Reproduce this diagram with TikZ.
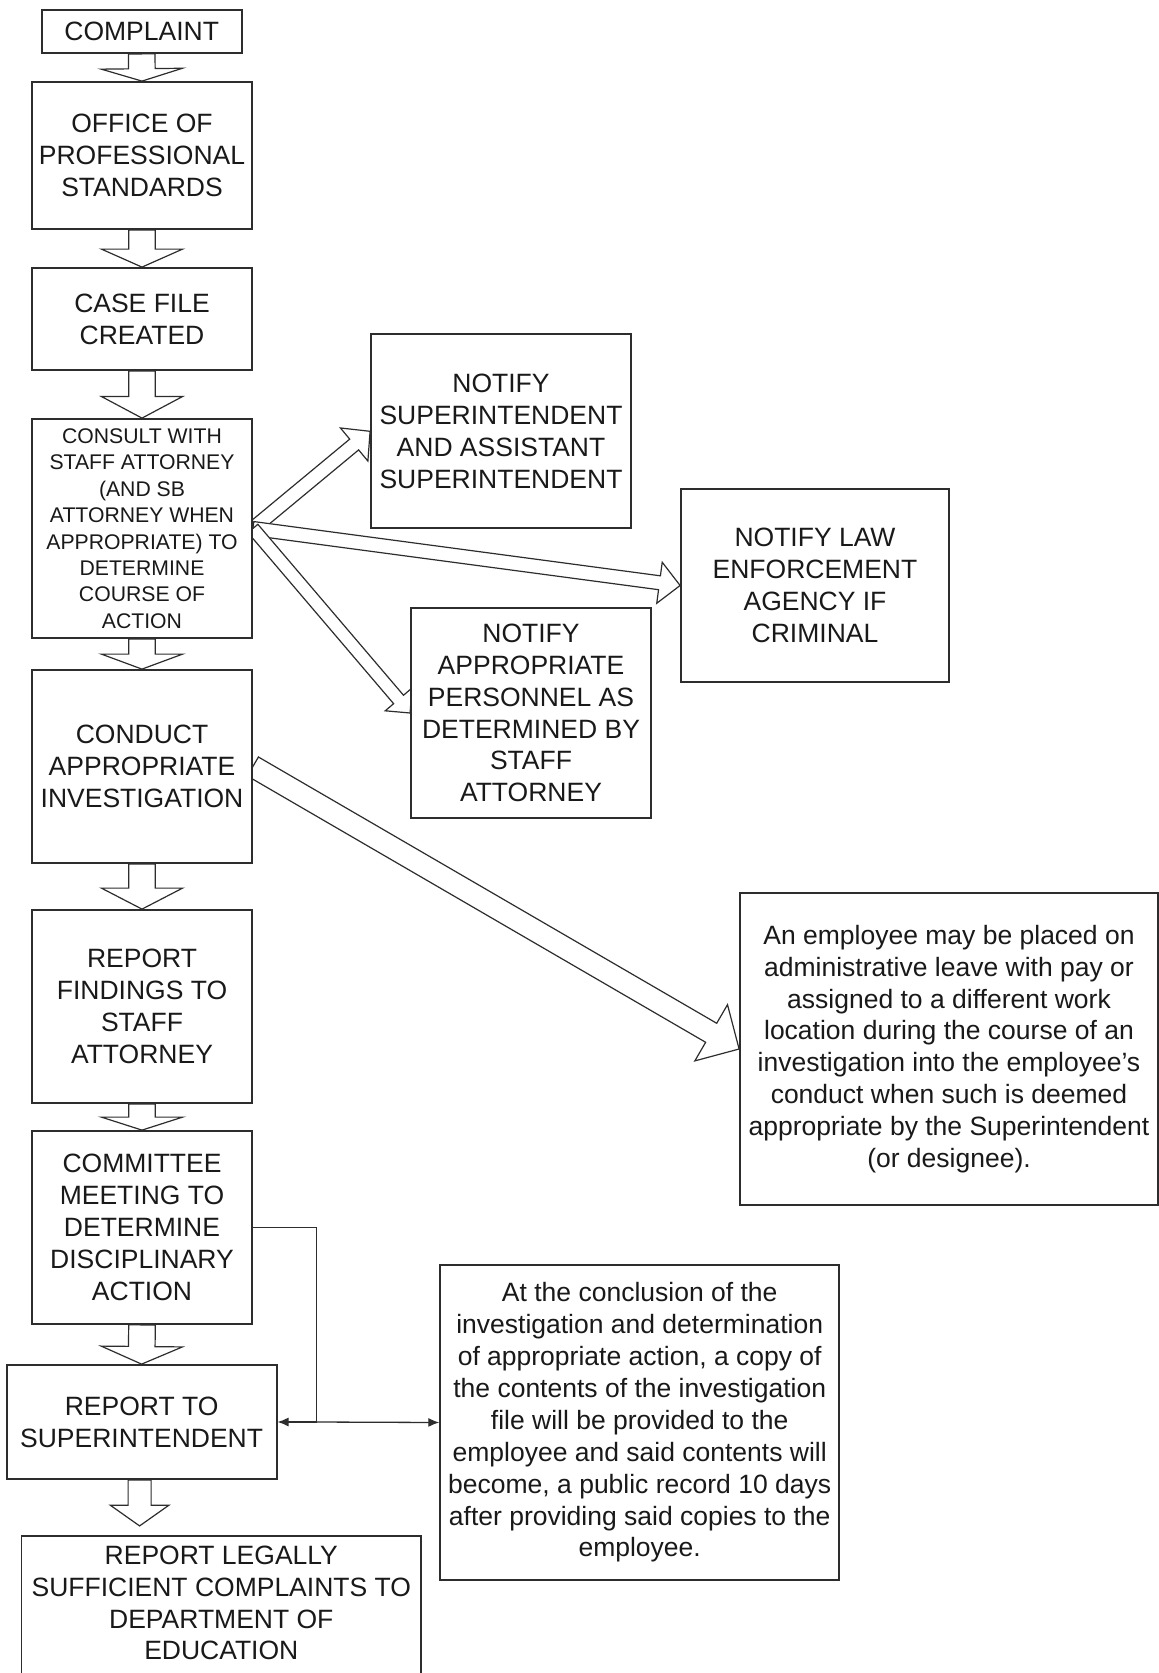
\documentclass[tikz,border=0pt]{standalone}
\usepackage{fontspec}
\setmainfont{Liberation Sans}
\usetikzlibrary{calc,arrows.meta}
\definecolor{linec}{RGB}{45,45,45}
\definecolor{txtc}{RGB}{25,25,25}
\newcommand\bigf{\fontsize{26.5pt}{31.9pt}\selectfont}
\newcommand\smf{\fontsize{21.2pt}{26.4pt}\selectfont}
\pgfdeclarelayer{bg}
\pgfsetlayers{bg,main}
% block arrow: #1 tail, #2 tip, #3 shaft half width, #4 head half width, #5 head length
\newcommand\barrow[5]{%
  \coordinate (bh) at ($(#2)!#5!(#1)$);
  \draw[blockarrow] ($(#1)!#3!90:(#2)$) -- ($(bh)!#3!90:(#2)$) -- ($(bh)!#4!90:(#2)$) -- (#2)
    -- ($(bh)!#4!-90:(#2)$) -- ($(bh)!#3!-90:(#2)$) -- ($(#1)!#3!-90:(#2)$) -- cycle;
}
\begin{document}
\begin{tikzpicture}[x=1pt, y=-1pt,
  flowbox/.style={draw=linec, line width=1.8pt, fill=white, inner sep=0pt, align=center, text=txtc, font=\bigf},
  blockarrow/.style={draw=linec, line width=1.2pt, fill=white, line join=miter},
  conn/.style={draw=linec, line width=1.3pt},
  tip/.style={-{Latex[length=11pt,width=9pt]}}]
\useasboundingbox (0,0) rectangle (1159,1673);

% left column
\node[flowbox, minimum width=200pt, minimum height=43pt] (complaint) at (141.7,31.5) {COMPLAINT};
\node[flowbox, minimum width=220pt, minimum height=147pt] (office) at (142,155.5) {OFFICE OF\\PROFESSIONAL\\STANDARDS};
\node[flowbox, minimum width=220pt, minimum height=102pt] (casefile) at (142,319) {CASE FILE\\CREATED};
\node[flowbox, font=\smf, minimum width=220pt, minimum height=219pt] (consult) at (142,528.5)
  {CONSULT WITH\\STAFF ATTORNEY\\(AND SB\\ATTORNEY WHEN\\APPROPRIATE) TO\\DETERMINE\\COURSE OF\\ACTION};
\node[flowbox, minimum width=220pt, minimum height=193pt] (conduct) at (142,766.5) {CONDUCT\\APPROPRIATE\\INVESTIGATION};
\node[flowbox, minimum width=220pt, minimum height=193pt] (findings) at (142,1006.5) {REPORT\\FINDINGS TO\\STAFF\\ATTORNEY};
\node[flowbox, minimum width=220pt, minimum height=193pt] (committee) at (142,1227.5) {COMMITTEE\\MEETING TO\\DETERMINE\\DISCIPLINARY\\ACTION};
\node[flowbox, minimum width=270pt, minimum height=114pt] (rsup) at (141.6,1422) {REPORT TO\\SUPERINTENDENT};
\node[flowbox, minimum width=399.5pt, minimum height=200pt, anchor=north] (legal) at (221.3,1535) {};
\node[text=txtc, font=\bigf, align=center, inner sep=0pt, anchor=north] (legaltext) at ($(legal.north)+(0,10.5)$)
  {REPORT LEGALLY\\SUFFICIENT COMPLAINTS TO\\DEPARTMENT OF\\EDUCATION};

% right side
\node[flowbox, minimum width=260pt, minimum height=194pt] (notsup) at (501,431.3) {NOTIFY\\SUPERINTENDENT\\AND ASSISTANT\\SUPERINTENDENT};
\node[flowbox, minimum width=268pt, minimum height=193pt] (notlaw) at (815,585.5) {NOTIFY LAW\\ENFORCEMENT\\AGENCY IF\\CRIMINAL};
\node[flowbox, minimum width=240pt, minimum height=210pt] (notappr) at (531,713) {NOTIFY\\APPROPRIATE\\PERSONNEL AS\\DETERMINED BY\\STAFF\\ATTORNEY};
\node[flowbox, minimum width=418pt, minimum height=312pt] (employee) at (949,1049)
  {An employee may be placed on\\administrative leave with pay or\\assigned to a different work\\location during the course of an\\investigation into the employee’s\\conduct when such is deemed\\appropriate by the Superintendent\\(or designee).};
\node[flowbox, minimum width=399pt, minimum height=315pt] (concl) at (639.7,1422.5)
  {At the conclusion of the\\investigation and determination\\of appropriate action, a copy of\\the contents of the investigation\\file will be provided to the\\employee and said contents will\\become, a public record 10 days\\after providing said copies to the\\employee.};

\coordinate (rsTail) at ($(rsup.south)+(-2,0)$);
\coordinate (legTip) at ($(rsup.south)+(-2,46)$);

\begin{pgfonlayer}{bg}
\fill[white] (0,0) rectangle (1159,1673);
\barrow{complaint.south}{office.north}{13.3pt}{40.6pt}{12.4pt}
\barrow{office.south}{casefile.north}{13.3pt}{40.6pt}{18pt}
\barrow{casefile.south}{consult.north}{13.3pt}{40.6pt}{21.6pt}
\barrow{consult.south}{conduct.north}{13.3pt}{40.6pt}{15pt}
\barrow{conduct.south}{findings.north}{13.3pt}{40.6pt}{21pt}
\barrow{findings.south}{committee.north}{13.3pt}{40.6pt}{13pt}
\barrow{committee.south}{rsup.north}{13.3pt}{40.6pt}{17.6pt}
\barrow{rsTail}{legTip}{11.5pt}{29.3pt}{20.7pt}
\barrow{consult.east}{notsup.west}{7pt}{21.5pt}{20.7pt}
\barrow{consult.east}{notlaw.west}{7pt}{20.7pt}{20.8pt}
\barrow{consult.east}{notappr.west}{6.5pt}{17.5pt}{17.8pt}
\barrow{conduct.east}{employee.west}{11pt}{32.5pt}{32.3pt}
\end{pgfonlayer}

% connector from committee
\coordinate (junc) at ($(rsup.east)+(39.3,0)$);
\draw[conn] (committee.east) -| (junc);
\draw[conn, tip] (junc) -- (rsup.east);
\draw[conn, tip] (junc) -- (concl.west);
\end{tikzpicture}
\end{document}
